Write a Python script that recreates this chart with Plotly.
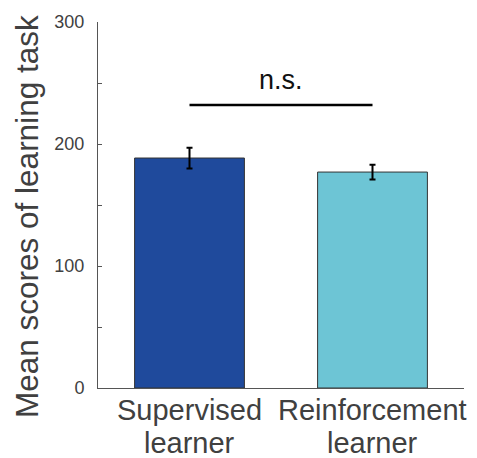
import plotly.graph_objects as go

categories = ["Supervised<br>learner", "Reinforcement<br>learner"]
means = [188.5, 177.0]
errors = [8.5, 6.0]
bar_colors = ["#1f4a9c", "#6dc5d5"]
y_ticks = [0, 100, 200, 300]
sig_label = "n.s."
sig_level = 232
y_title = "Mean scores of learning task"

# page body has an 8px margin, so the figure is shifted by 8px
W, H = 469, 450
L, T = 90, 14
PW, PH = 366, 366
FONT = "Liberation Sans, Arial"

fig = go.Figure()
fig.add_trace(go.Bar(
    x=[0, 1], y=means, width=0.6,
    marker=dict(color=bar_colors, line=dict(color="#333333", width=1)),
    error_y=dict(type="data", array=errors, color="black", thickness=2, width=3),
    showlegend=False,
))

fig.add_shape(type="line", xref="x", yref="y", x0=0, x1=1, y0=sig_level, y1=sig_level,
              line=dict(color="black", width=2.5))
fig.add_annotation(x=0.5, y=sig_level + 6.5, xref="x", yref="y", text=sig_label,
                   showarrow=False, yanchor="bottom", xanchor="center",
                   font=dict(family=FONT, size=27, color="#111111"))
fig.add_annotation(xref="paper", yref="paper", x=(19 - L) / PW, y=(T + PH - 209) / PH,
                   xanchor="center", yanchor="middle",
                   text=y_title, showarrow=False, textangle=-90,
                   font=dict(family=FONT, size=31.5, color="#404040"))

# category labels, one annotation per line for tighter line spacing
for i, cat in enumerate(categories):
    for j, line in enumerate(cat.split("<br>")):
        fig.add_annotation(x=i, y=0, xref="x", yref="paper", text=line,
                           showarrow=False, xanchor="center", yanchor="middle",
                           yshift=-(22 + 33 * j),
                           font=dict(family=FONT, size=29, color="#404040"))

fig.update_layout(
    width=W, height=H,
    margin=dict(l=L, r=W - L - PW, t=T, b=H - T - PH, autoexpand=False),
    plot_bgcolor="white", paper_bgcolor="white",
    font=dict(family=FONT, color="#404040"),
    xaxis=dict(range=[-0.5, 1.5], tickvals=[0, 1], showticklabels=False, automargin=False,
               showline=True, linecolor="#555555", linewidth=1, ticks="",
               showgrid=False, zeroline=False),
    yaxis=dict(range=[0, 300], tickvals=y_ticks, showline=True, linecolor="#555555",
               automargin=False, ticklabelstandoff=9,
               linewidth=1, ticks="inside", ticklen=4, tickcolor="#555555",
               minor=dict(dtick=50, ticks="inside", ticklen=4, tickcolor="#555555"),
               showgrid=False, zeroline=False, tickfont=dict(size=18, color="#404040")),
)

fig.write_html("out.html")
